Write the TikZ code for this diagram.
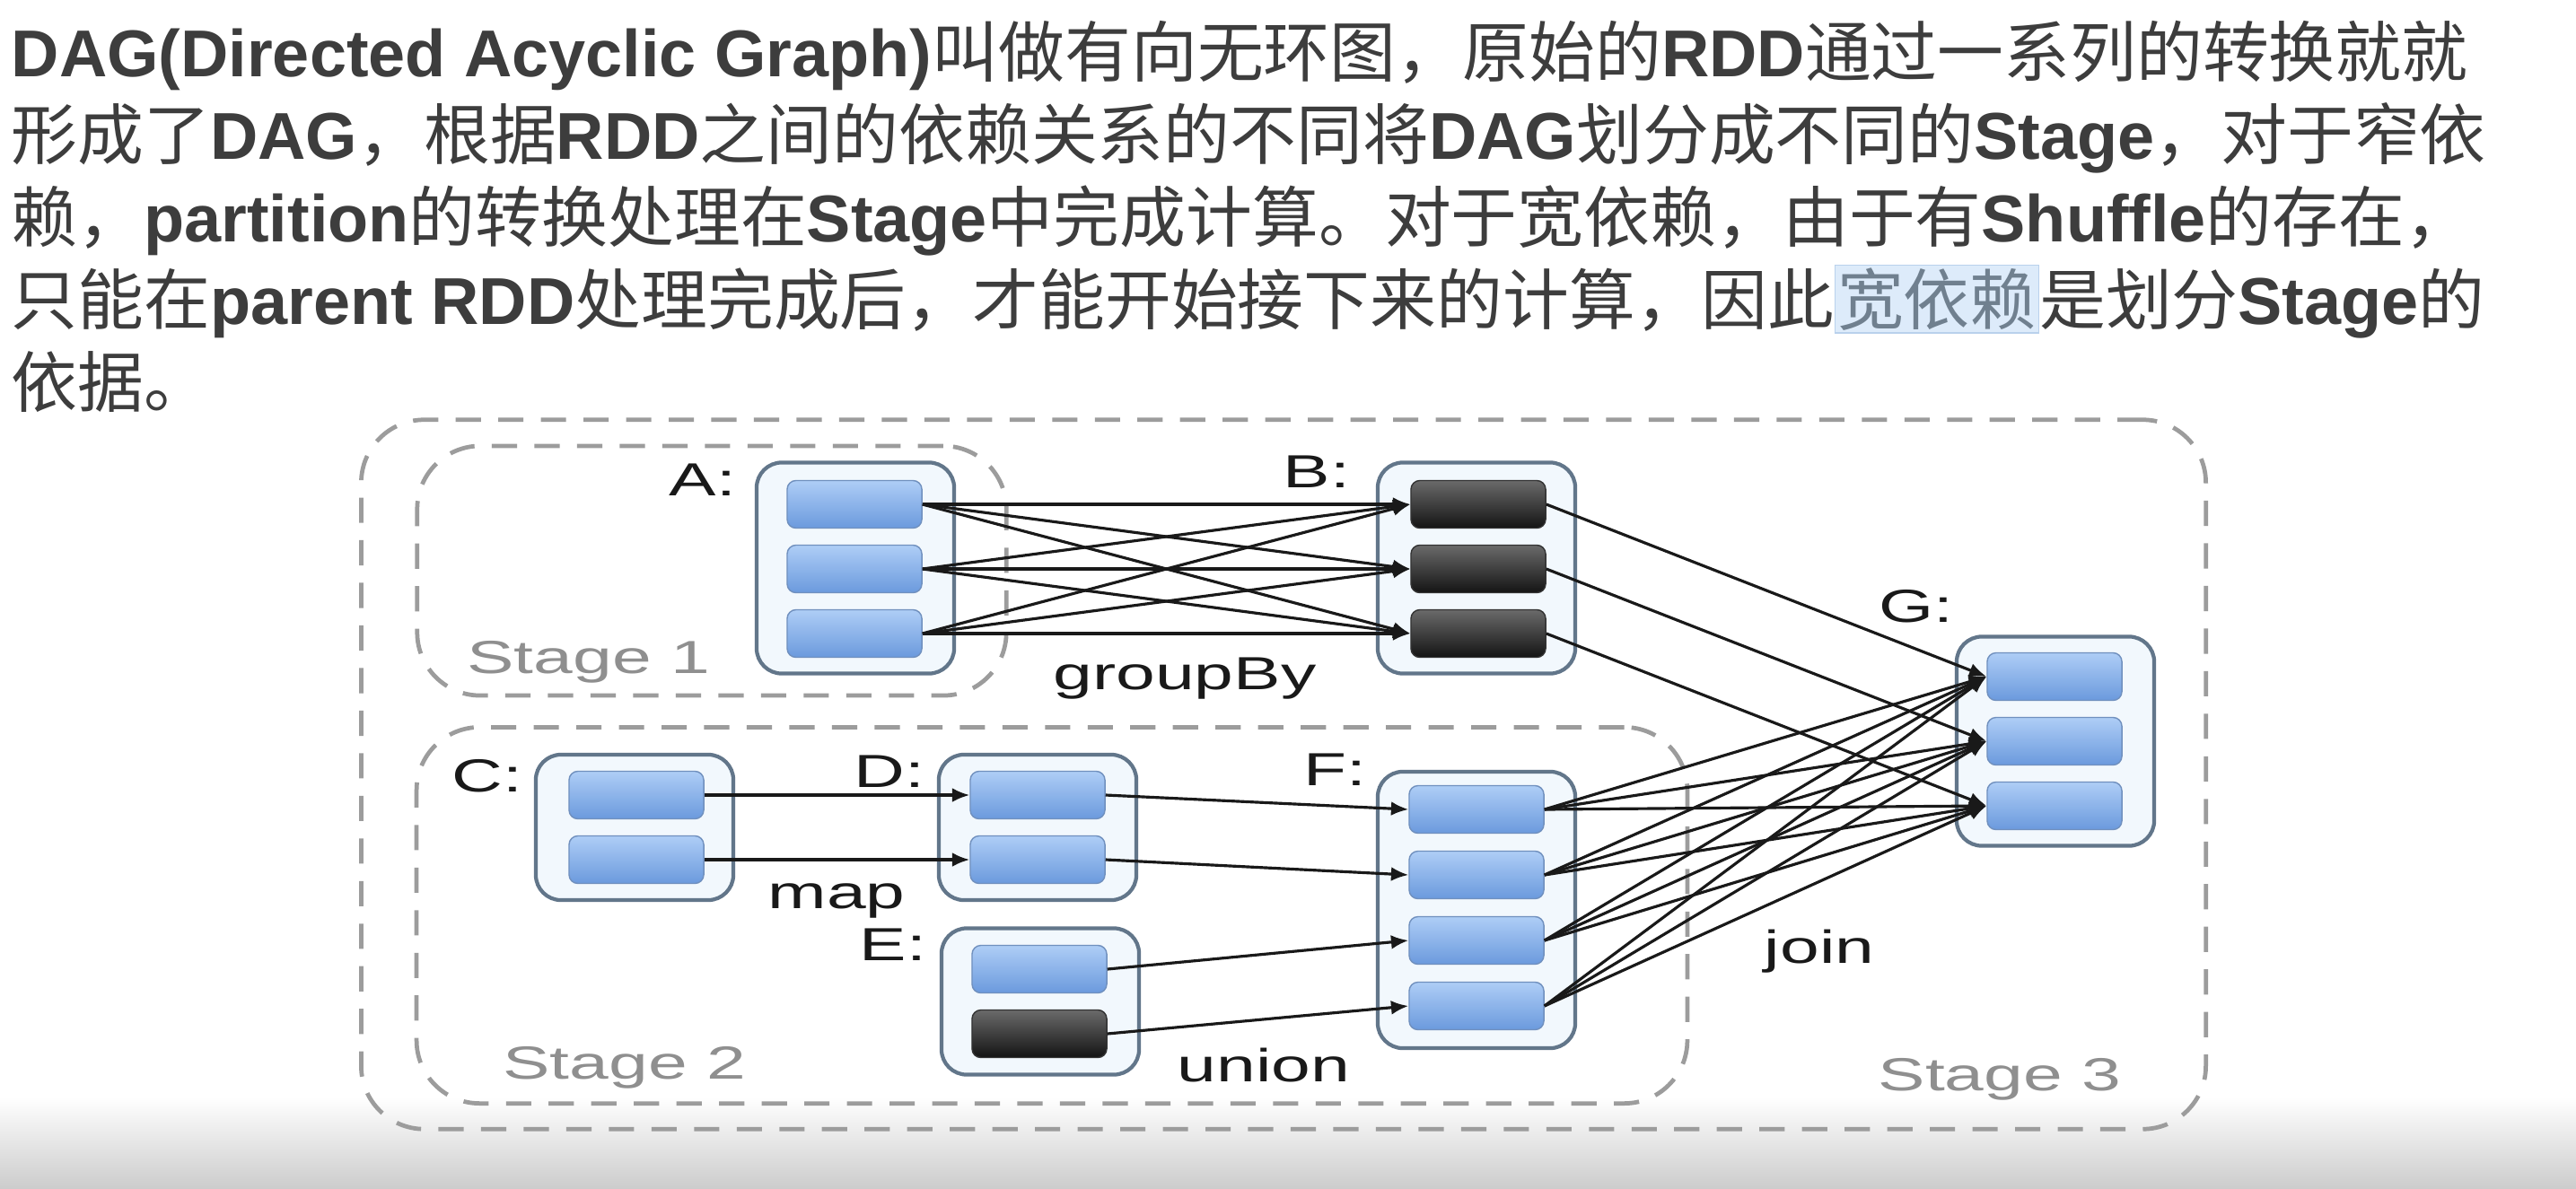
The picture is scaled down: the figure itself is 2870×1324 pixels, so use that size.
\documentclass[tikz,border=0pt]{standalone}
\usepackage{fontspec}
\usepackage{xcolor}
\usetikzlibrary{arrows.meta, positioning, calc}
\newfontfamily\cjkfont{Noto Sans CJK SC}
\newfontfamily\latinfont{Liberation Sans}
\newfontfamily\figfont{Liberation Sans}[FakeStretch=1.52]
\newcommand{\lat}[1]{{\latinfont\bfseries #1}}
\newcommand{\hilite}[1]{{\setlength{\fboxsep}{0.6pt}\setlength{\fboxrule}{0.4pt}\fcolorbox{hlline}{hlfill}{\color{hltext}#1}}}
\definecolor{ink}{HTML}{3D3D3D}
\definecolor{frame}{HTML}{62768A}
\definecolor{paleblue}{HTML}{F2F8FD}
\definecolor{parttop}{HTML}{AECDF6}
\definecolor{partbot}{HTML}{6B9ADD}
\definecolor{partline}{HTML}{7090BE}
\definecolor{darktop}{HTML}{6A6A6A}
\definecolor{darkbot}{HTML}{141414}
\definecolor{stagegray}{HTML}{9C9C9C}
\definecolor{stagetext}{HTML}{8F8F8F}
\definecolor{hlfill}{HTML}{DDEBFA}
\definecolor{hlline}{HTML}{B9D1EC}
\definecolor{hltext}{HTML}{70808F}
\tikzset{
  rdd/.style={
    rectangle, rounded corners=8pt,
    draw=frame, fill=paleblue, line width=1.2pt,
    minimum width=2.2cm
  },
  part/.style={
    rectangle, rounded corners=2.8pt,
    draw=partline, line width=0.4pt,
    top color=parttop, bottom color=partbot,
    minimum width=1.5cm, minimum height=0.53cm, inner sep=0pt
  },
  darkpart/.style={part, draw=black!80, top color=darktop, bottom color=darkbot},
  lbl/.style={font=\figfont\fontsize{14.7}{16}\selectfont, text=black!90, inner sep=0pt, anchor=base},
  stagelbl/.style={lbl, text=stagetext},
  stagebox/.style={rectangle, rounded corners=20pt, draw=stagegray, line width=1.35pt,
                   dash pattern=on 8pt off 5.5pt},
  para/.style={font=\cjkfont\fontsize{21}{26}\selectfont, text=ink, anchor=base west, inner sep=0pt},
  arrow/.style={-{Latex[length=5.5pt,width=4.5pt]}, line width=0.9pt, draw=black!90},
}

\begin{document}
\begin{tikzpicture}[x=0.01cm, y=-0.01cm]
  \useasboundingbox (0,0) rectangle (2870,1324);
  \fill[white] (0,0) rectangle (2870,1324);
  \shade[top color=white, bottom color=gray!40] (0,1222) rectangle (2870,1324);

  % text above the figure
  \node[para] (line1) at (12,85) {\lat{DAG(Directed Acyclic Graph)}叫做有向无环图，原始的\lat{RDD}通过一系列的转换就就};
  \node[para] (line2) at (12,177) {形成了\lat{DAG}，根据\lat{RDD}之间的依赖关系的不同将\lat{DAG}划分成不同的\lat{Stage}，对于窄依};
  \node[para] (line3) at (12,269) {赖，\lat{partition}的转换处理在\lat{Stage}中完成计算。对于宽依赖，由于有\lat{Shuffle}的存在，};
  \node[para] (line4) at (12,361) {只能在\lat{parent RDD}处理完成后，才能开始接下来的计算，因此\hilite{宽依赖}是划分\lat{Stage}的};
  \node[para] (line5) at (12,453) {依据。};

  % stages
  \node[stagebox, minimum width=20.54cm, minimum height=7.9cm] (stage3) at (1430,863) {};
  \node[stagebox, minimum width=6.56cm, minimum height=2.78cm] (stage1) at (793,636) {};
  \node[stagebox, minimum width=14.15cm, minimum height=4.19cm] (stage2) at (1172,1020) {};

  % RDDs
  \node[rdd, minimum height=2.35cm] (A) at (953,633) {};
  \node[rdd, minimum height=2.35cm] (B) at (1645,633) {};
  \node[rdd, minimum height=2.33cm] (G) at (2290,826) {};
  \node[rdd, minimum height=1.62cm] (C) at (707,922) {};
  \node[rdd, minimum height=1.62cm] (D) at (1156,922) {};
  \node[rdd, minimum height=1.63cm] (E) at (1159,1116) {};
  \node[rdd, minimum height=3.08cm] (F) at (1645,1014) {};

  % partitions
  \foreach \i/\y in {1/562,2/634,3/706} {
    \node[part] (a\i) at (952,\y) {};
    \node[darkpart] (b\i) at (1647,\y) {};
  }
  \foreach \i/\y in {1/754,2/826,3/898}
    \node[part] (g\i) at (2289,\y) {};
  \foreach \i/\y in {1/886,2/958} {
    \node[part] (c\i) at (709,\y) {};
    \node[part] (d\i) at (1156,\y) {};
  }
  \node[part] (e1) at (1158,1080) {};
  \node[darkpart] (e2) at (1158,1152) {};
  \foreach \i/\y in {1/902,2/975,3/1048,4/1121}
    \node[part] (f\i) at (1645,\y) {};

  % groupBy and join
  \foreach \i in {1,2,3}
    \foreach \j in {1,2,3}
      \draw[arrow] (a\i.east) -- (b\j.west);
  \foreach \i in {1,2,3}
    \draw[arrow] (b\i.east) -- (g\i.west);
  \foreach \i in {1,...,4}
    \foreach \j in {1,2,3}
      \draw[arrow] (f\i.east) -- (g\j.west);

  % map and union
  \draw[arrow] (c1.east) -- (d1.west);
  \draw[arrow] (c2.east) -- (d2.west);
  \draw[arrow] (d1.east) -- (f1.west);
  \draw[arrow] (d2.east) -- (f2.west);
  \draw[arrow] (e1.east) -- (f3.west);
  \draw[arrow] (e2.east) -- (f4.west);

  % labels
  \node[lbl] (labA) at (783,552) {A:};
  \node[lbl] (labB) at (1467,543) {B:};
  \node[lbl] (labG) at (2135,693) {G:};
  \node[lbl] (labC) at (543,882) {C:};
  \node[lbl] (labD) at (991,877) {D:};
  \node[lbl] (labE) at (995,1070) {E:};
  \node[lbl] (labF) at (1487,875) {F:};
  \node[lbl] (groupby) at (1320,768) {groupBy};
  \node[lbl] (map) at (932,1012) {map};
  \node[lbl] (union) at (1408,1205) {union};
  \node[lbl] (join) at (2027,1073) {join};
  \node[stagelbl] (s1) at (656,750) {Stage 1};
  \node[stagelbl] (s2) at (696,1202) {Stage 2};
  \node[stagelbl] (s3) at (2228,1215) {Stage 3};
\end{tikzpicture}
\end{document}
